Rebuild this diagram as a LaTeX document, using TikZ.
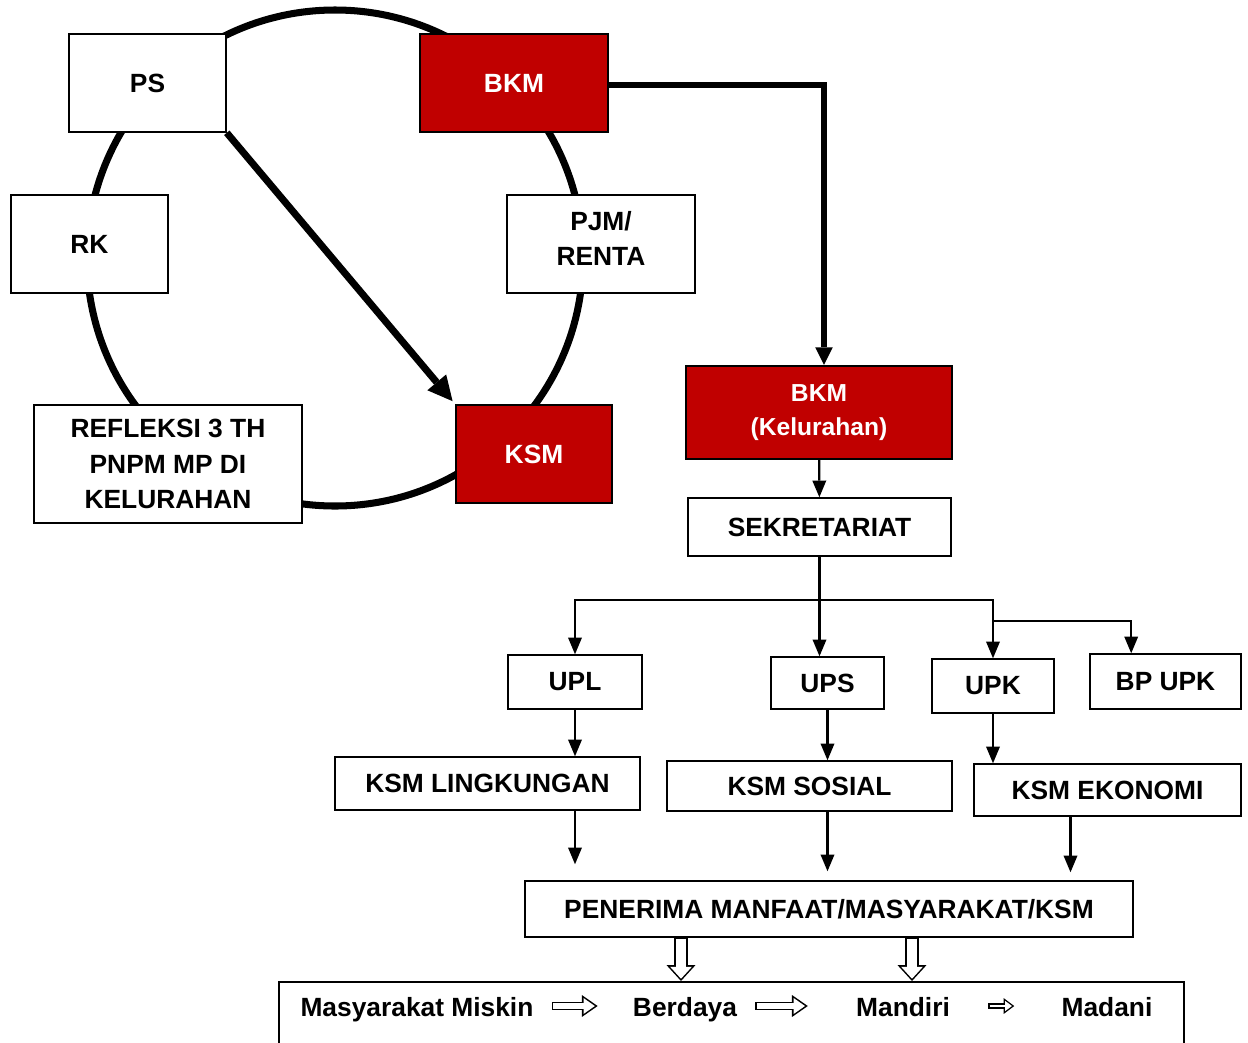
\documentclass[tikz,border=0pt]{standalone}
\usepackage{fontspec}
\setmainfont{Liberation Sans}
\usetikzlibrary{arrows.meta,positioning,calc}
\definecolor{bkmred}{HTML}{C00000}

\begin{document}
\begin{tikzpicture}[x=0.02cm,y=-0.02cm,
  every node/.style={font=\fontsize{15}{20}\selectfont\bfseries},
  box/.style={draw,line width=0.9pt,fill=white,align=center,inner sep=0pt},
  redbox/.style={box,line width=1.3pt,fill=bkmred,text=white},
  sz/.style 2 args={minimum width=#1*0.02cm,minimum height=#2*0.02cm},
  ring/.style={line width=4pt},
  arrow/.style={-{Triangle[width=8pt,length=9.5pt,line width=0pt]},line width=1.3pt},
  thickarrow/.style={-{Triangle[width=10pt,length=10pt,line width=0pt]},line width=3.2pt},
  bigarrow/.style={-{Triangle[width=14pt,length=14pt,line width=0pt]},line width=4pt},
  hollowv/.style={line width=7.9pt,-{Triangle[width=16.4pt,length=9pt,line width=0pt]},
    postaction={draw=white,line width=6.1pt,shorten >=1.3pt,shorten <=0.5pt,
      -{Triangle[width=12.4pt,length=6.8pt,line width=0pt]}}},
  hollowh/.style={line width=5pt,-{Triangle[width=12.5pt,length=9pt,line width=0pt]},
    postaction={draw=white,line width=3.2pt,shorten >=1.6pt,shorten <=0.9pt,
      -{Triangle[width=9pt,length=6.4pt,line width=0pt]}}},
  hollows/.style={line width=3pt,-{Triangle[width=9pt,length=6pt,line width=0pt]},
    postaction={draw=white,line width=1.4pt,shorten >=1.3pt,shorten <=0.8pt,
      -{Triangle[width=5.8pt,length=3.9pt,line width=0pt]}}}
]
\useasboundingbox (0,0) rectangle (1248,1042);
\clip (0,0) rectangle (1248,1042);
% siklus
\coordinate (pusat) at (335,258);
\draw[ring] (pusat) circle[radius=248];
\node[box,sz={157}{98}] (ps) at (147.5,83) {PS};
\node[redbox,sz={188}{98}] (bkm) at (514,83) {BKM};
\node[box,sz={157}{98}] (rk) at (89.5,244) {RK};
\node[box,sz={188}{98},text depth=6.2pt] (pjm) at (601,244) {PJM/\\RENTA};
\node[box,sz={268}{118}] (refleksi) at (168,464) {REFLEKSI 3 TH\\PNPM MP DI\\KELURAHAN};
\node[redbox,sz={156}{98}] (ksm) at (534,454) {KSM};
\draw[bigarrow,shorten >=2pt] (ps.south east) -- (ksm.north west);
% struktur kelurahan
\node[redbox,sz={266}{93},font=\fontsize{14}{19}\selectfont\bfseries] (bkmkel) at (819,412.5) {BKM\\(Kelurahan)};
\node[box,sz={263}{58}] (sekretariat) at (819.5,527) {SEKRETARIAT};
\node[box,sz={134}{54}] (upl) at (575,682) {UPL};
\node[box,sz={113}{52}] (ups) at (827.5,683) {UPS};
\node[box,sz={122}{54}] (upk) at (993,686) {UPK};
\node[box,sz={151}{55}] (bpupk) at (1165.5,681.5) {BP UPK};
\node[box,sz={305}{53}] (ksmling) at (487.5,783.5) {KSM LINGKUNGAN};
\node[box,sz={285}{50}] (ksmsos) at (809.5,786) {KSM SOSIAL};
\node[box,sz={267}{52}] (ksmeko) at (1107.5,790) {KSM EKONOMI};
\node[box,sz={608}{56}] (penerima) at (829,909) {PENERIMA MANFAAT/MASYARAKAT/KSM};
\node[box,sz={905}{110},anchor=north] (hasil) at (731.5,981) {};
\node[anchor=base,inner sep=0pt] (miskin) at (417,1016) {Masyarakat Miskin};
\node[anchor=base,inner sep=0pt] (berdaya) at (685,1016) {Berdaya};
\node[anchor=base,inner sep=0pt] (mandiri) at (903,1016) {Mandiri};
\node[anchor=base,inner sep=0pt] (madani) at (1107,1016) {Madani};
\draw[thickarrow] ($(bkm.east)+(0,2)$) -| ($(bkmkel.north)+(5,0)$);
\draw[arrow] (bkmkel) -- (sekretariat);
\coordinate (cabang) at (819.5,600);
\coordinate (cabangk) at (993,621);
\draw[arrow] (sekretariat.south) -- (sekretariat.south |- ups.north);
\draw[arrow] (cabang) -| (upl.north);
\draw[arrow] (cabang) -| (upk.north);
\draw[arrow] (cabangk) -| ($(bpupk.north west)+(42,0)$);
\draw[arrow] (upl.south) -- (upl.south |- ksmling.north);
\draw[arrow] (ups.south) -- (ups.south |- ksmsos.north);
\draw[arrow] (upk.south) -- (upk.south |- ksmeko.north);
\coordinate (ekobawah) at ($(ksmeko.south)+(-37,0)$);
\draw[arrow,shorten >=0.32cm] (ksmling.south -| upl.south) -- (upl.south |- penerima.north);
\draw[arrow,shorten >=0.18cm] (ksmsos.south -| ups.south) -- (ups.south |- penerima.north);
\draw[arrow,shorten >=0.16cm] (ekobawah) -- (ekobawah |- penerima.north);
\coordinate (turun1) at ($(penerima.south)+(-148,0)$);
\coordinate (turun2) at ($(penerima.south)+(83,0)$);
\draw[hollowv] (turun1) -- (turun1 |- hasil.north);
\draw[hollowv] (turun2) -- (turun2 |- hasil.north);
\draw[hollowh] ($(miskin.base east)+(18,-10)$) -- ($(berdaya.base west)+(-35,-10)$);
\draw[hollowh] ($(berdaya.base east)+(18,-10)$) -- ($(mandiri.base west)+(-48,-10)$);
\draw[hollows] ($(mandiri.base east)+(38,-10)$) -- ($(madani.base west)+(-47,-10)$);
\end{tikzpicture}
\end{document}
